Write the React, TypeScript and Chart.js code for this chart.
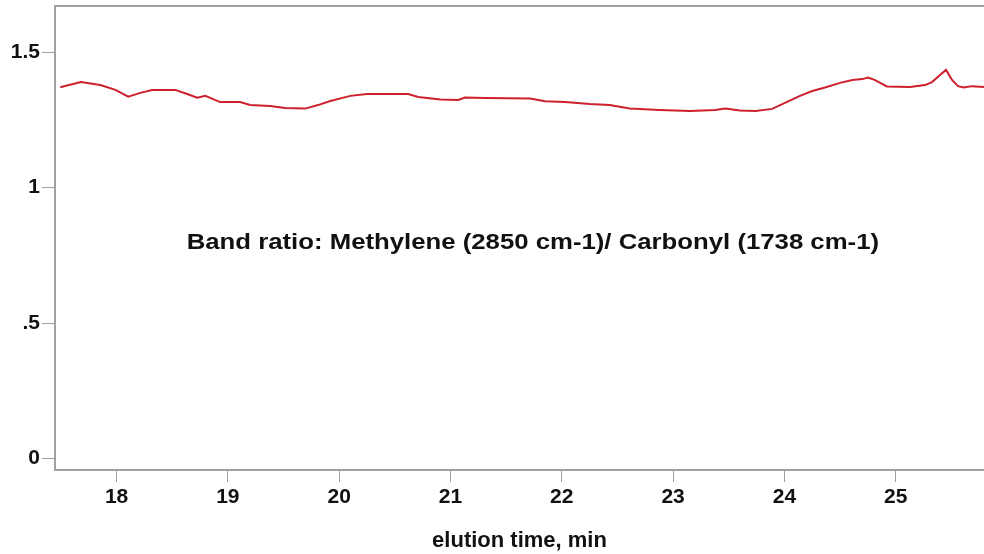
import React, { useEffect, useRef } from "react";
import { Chart, registerables } from "chart.js";

Chart.register(...registerables);

// elution time (min)
const times = [
  17.494, 17.68, 17.854, 17.99, 18.105, 18.213, 18.32, 18.527, 18.635, 18.725,
  18.797, 18.868, 18.931, 19.11, 19.2, 19.38, 19.515, 19.695, 19.81, 19.92,
  20.1, 20.25, 20.62, 20.71, 20.91, 21.07, 21.13, 21.31, 21.715, 21.85,
  22.03, 22.25, 22.43, 22.61, 22.88, 23.152, 23.377, 23.47, 23.6, 23.74,
  23.89, 24.005, 24.14, 24.25, 24.365, 24.5, 24.61, 24.7, 24.75, 24.81,
  24.92, 25.128, 25.263, 25.326, 25.398, 25.452, 25.506, 25.56, 25.61, 25.686,
  25.793,
];
// band ratio values
const ratios = [
  1.371, 1.39, 1.379, 1.361, 1.336, 1.35, 1.361, 1.361, 1.346, 1.332,
  1.339, 1.327, 1.316, 1.316, 1.305, 1.302, 1.294, 1.292, 1.305, 1.32,
  1.339, 1.346, 1.346, 1.335, 1.326, 1.324, 1.333, 1.331, 1.329, 1.319,
  1.316, 1.309, 1.305, 1.292, 1.287, 1.283, 1.287, 1.292, 1.285, 1.283,
  1.291, 1.313, 1.339, 1.357, 1.37, 1.387, 1.398, 1.401, 1.407, 1.398,
  1.374, 1.372, 1.379, 1.39, 1.416, 1.435, 1.398, 1.375, 1.37, 1.375,
  1.372,
];

const xTicks = [18, 19, 20, 21, 22, 23, 24, 25];
const yTicks = [0, 0.5, 1, 1.5];
const yTickLabels = ["0", ".5", "1", "1.5"];

const annotationText = "Band ratio: Methylene (2850 cm-1)/ Carbonyl (1738 cm-1)";
const annotationAt = { x: 21.74, y: 0.795 };
const xTitle = "elution time, min";

const AXIS_GRAY = "#a0a0a0";
const FONT = "Liberation Sans, Arial, sans-serif";

export default function App() {
  const ref = useRef<HTMLCanvasElement | null>(null);

  useEffect(() => {
    if (!ref.current) return;
    const extras = {
      id: "extras",
      afterDraw(chart: any) {
        const { ctx, chartArea, scales } = chart;
        ctx.save();
        // top frame line
        ctx.strokeStyle = AXIS_GRAY;
        ctx.lineWidth = 2;
        ctx.beginPath();
        ctx.moveTo(chartArea.left, chartArea.top);
        ctx.lineTo(chartArea.right, chartArea.top);
        ctx.stroke();
        // annotation (slightly widened lettering as in the original)
        ctx.fillStyle = "#111";
        ctx.font = `bold 22px ${FONT}`;
        ctx.textAlign = "center";
        ctx.textBaseline = "middle";
        ctx.translate(
          scales.x.getPixelForValue(annotationAt.x),
          scales.y.getPixelForValue(annotationAt.y)
        );
        ctx.scale(1.17, 1);
        ctx.fillText(annotationText, 0, 0);
        ctx.restore();
      },
    };

    const chart = new Chart(ref.current, {
      type: "line",
      data: {
        datasets: [
          {
            data: times.map((t, i) => ({ x: t, y: ratios[i] })),
            borderColor: "rgb(205,32,45)",
            borderWidth: 2,
            pointRadius: 0,
            tension: 0,
            fill: false,
          },
        ],
      },
      options: {
        responsive: false,
        animation: false,
        layout: { padding: { top: 6, right: 0, left: 0, bottom: 0 } },
        plugins: {
          legend: { display: false },
          tooltip: { enabled: false },
        },
        scales: {
          x: {
            type: "linear",
            min: 17.447,
            max: 25.793,
            afterBuildTicks: (s: any) => {
              s.ticks = xTicks.map((v) => ({ value: v }));
            },
            afterFit: (s: any) => {
              s.height = 84;
              s.paddingLeft = 0;
              s.paddingRight = 0;
            },
            grid: {
              drawOnChartArea: false,
              drawTicks: true,
              tickLength: 12,
              color: AXIS_GRAY,
              lineWidth: 1,
            },
            border: { display: true, color: AXIS_GRAY, width: 2 },
            ticks: {
              color: "#111",
              font: { family: FONT, size: 21, weight: "bold" },
              padding: 3,
              maxRotation: 0,
              callback: (v: any) => String(v),
            },
            title: {
              display: true,
              text: xTitle,
              color: "#111",
              font: { family: FONT, size: 22, weight: "bold" },
              padding: { top: 4, bottom: 0 },
            },
          },
          y: {
            type: "linear",
            min: -0.043,
            max: 1.671,
            afterBuildTicks: (s: any) => {
              s.ticks = yTicks.map((v) => ({ value: v }));
            },
            afterFit: (s: any) => {
              s.width = 55;
              s.paddingTop = 0;
              s.paddingBottom = 0;
            },
            grid: {
              drawOnChartArea: false,
              drawTicks: true,
              tickLength: 13,
              color: AXIS_GRAY,
              lineWidth: 1,
            },
            border: { display: true, color: AXIS_GRAY, width: 2 },
            ticks: {
              color: "#111",
              font: { family: FONT, size: 21, weight: "bold" },
              padding: 2,
              callback: (v: any) => {
                const i = yTicks.indexOf(Number(v));
                return i >= 0 ? yTickLabels[i] : "";
              },
            },
          },
        },
      },
      plugins: [extras],
    });
    return () => chart.destroy();
  }, []);

  return (
    <div style={{ position: "absolute", left: 0, top: 0, width: 984, height: 554, background: "#fff" }}>
      <canvas ref={ref} width={984} height={554} />
    </div>
  );
}
